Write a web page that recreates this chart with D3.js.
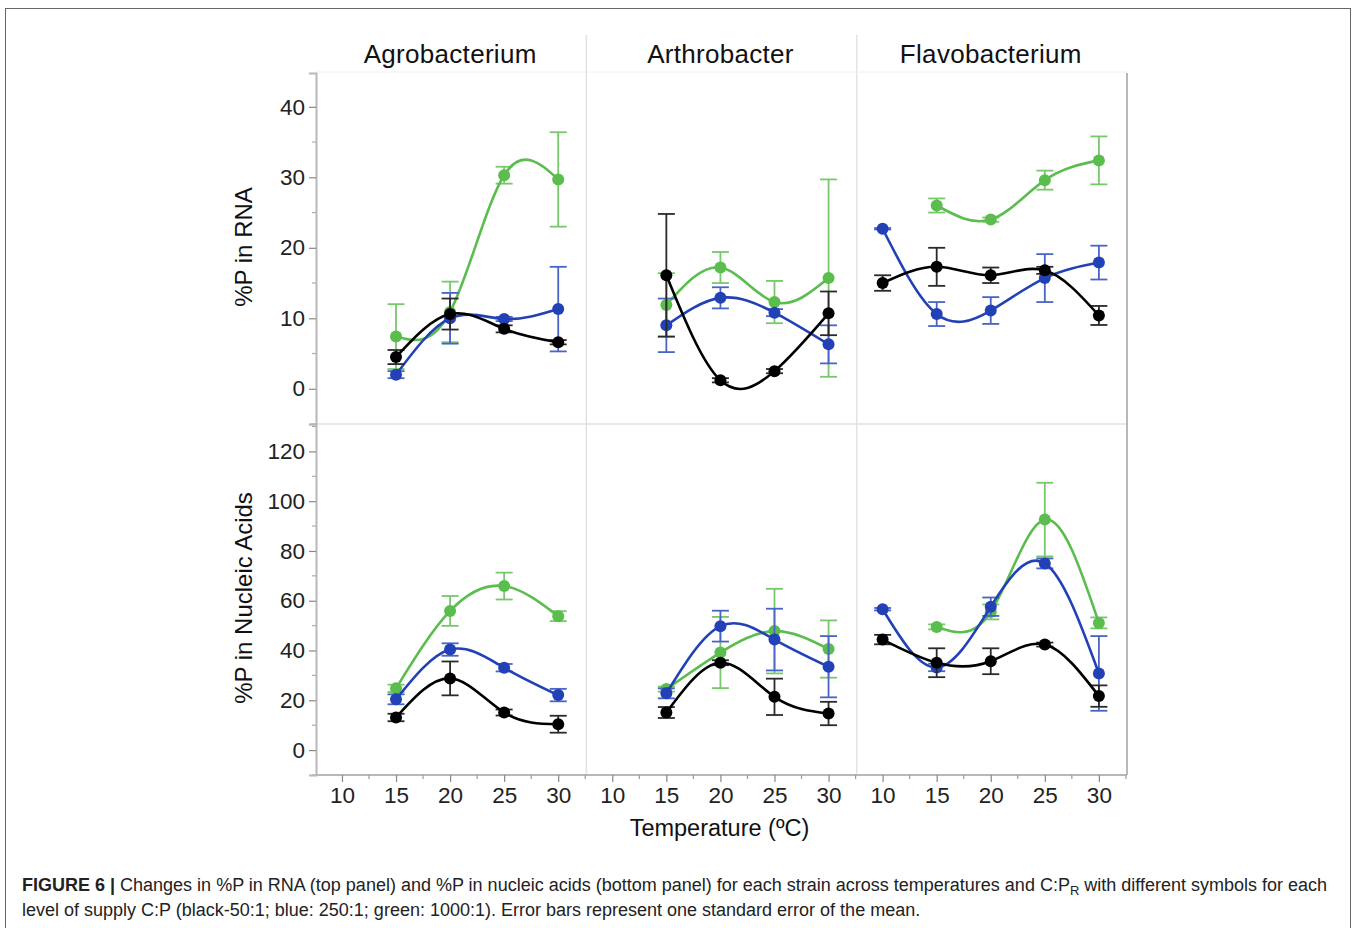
<!DOCTYPE html>
<html>
<head>
<meta charset="utf-8">
<script src="https://cdn.jsdelivr.net/npm/d3@7"></script>
<style>
  body { margin: 0; background: #fff; }
  svg { display: block; font-family: "Liberation Sans", Arial, sans-serif; }
</style>
</head>
<body>
<svg width="1358" height="928"></svg>
<script>
// data
const strains = ["Agrobacterium", "Arthrobacter", "Flavobacterium"];
const supplies = ["50:1", "250:1", "1000:1"];  // black, blue, green
const temps = [10, 15, 20, 25, 30];
const xTicks = [10, 15, 20, 25, 30];
const rnaTicks = [0, 10, 20, 30, 40];
const naTicks = [0, 20, 40, 60, 80, 100, 120];

// %P in RNA, rows = supply (black, blue, green), cols = temps
const rnaAgro = [[null, 4.5, 10.6, 8.5, 6.6], [null, 2.0, 10.0, 9.9, 11.3], [null, 7.4, 10.9, 30.3, 29.7]];
const rnaAgroSE = [[0, 1.0, 2.2, 0.5, 0.3], [0, 0.5, 3.6, 0.3, 6.0], [0, 4.6, 4.3, 1.2, 6.7]];
const rnaArth = [[null, 16.1, 1.2, 2.5, 10.7], [null, 9.0, 12.9, 10.8, 6.3], [null, 11.9, 17.2, 12.3, 15.7]];
const rnaArthSE = [[0, 8.7, 0.3, 0.3, 3.1], [0, 3.8, 1.5, 0.5, 2.7], [0, 4.5, 2.2, 3.0, 14.0]];
const rnaFlav = [[15.0, 17.3, 16.1, 16.8, 10.4], [22.7, 10.6, 11.1, 15.7, 17.9], [null, 26.0, 24.0, 29.6, 32.4]];
const rnaFlavSE = [[1.1, 2.7, 1.1, 0.5, 1.35], [0.1, 1.7, 1.9, 3.4, 2.4], [0, 1.0, 0.3, 1.35, 3.4]];

// %P in nucleic acids
const naAgro = [[null, 13.1, 28.8, 15.1, 10.4], [null, 20.4, 40.4, 33.1, 22.1], [null, 24.8, 55.9, 65.9, 53.8]];
const naAgroSE = [[0, 1.5, 6.8, 1.2, 3.4], [0, 2.0, 2.5, 1.5, 2.5], [0, 1.5, 6.0, 5.4, 2.0]];
const naArth = [[null, 15.1, 35.1, 21.4, 14.7], [null, 22.8, 49.8, 44.4, 33.5], [null, 24.5, 39.2, 47.8, 40.6]];
const naArthSE = [[0, 2.2, 1.0, 7.3, 4.7], [0, 2.0, 6.2, 12.4, 12.3], [0, 1.0, 14.3, 17.0, 11.5]];
const naFlav = [[44.4, 35.1, 35.7, 42.4, 21.7], [56.6, 33.2, 57.6, 75.0, 30.8], [null, 49.5, 55.5, 92.6, 51.1]];
const naFlavSE = [[1.9, 5.8, 5.2, 0.8, 4.3], [0.5, 1.5, 3.7, 2.0, 15.0], [0, 1.0, 3.0, 14.8, 2.2]];

const colors = ["#000000", "#2241b6", "#5bbd4e"];
const barColors = ["#2a2a2a", "#4964c6", "#77c86b"];

const svg = d3.select("svg");

// layout
const left = 316, right = 1127;
const panelW = (right - left) / 3;
const topY0 = 73, midY = 424, botY1 = 775;

const yRna = d3.scaleLinear().domain([-5, 44.8]).range([midY, topY0]);
const yNa = d3.scaleLinear().domain([-10, 131]).range([botY1, midY]);

// outer frame
svg.append("rect").attr("x", 5.5).attr("y", 8.5).attr("width", 1345).attr("height", 940)
  .attr("fill", "none").attr("stroke", "#666").attr("stroke-width", 1);

// grid separators
const sepColor = "#e2e2e2";
[1, 2].forEach(i => {
  svg.append("line").attr("x1", left + i * panelW).attr("x2", left + i * panelW)
    .attr("y1", 35).attr("y2", botY1).attr("stroke", sepColor).attr("stroke-width", 1.5);
});
svg.append("line").attr("x1", left).attr("x2", right).attr("y1", midY).attr("y2", midY)
  .attr("stroke", sepColor).attr("stroke-width", 1.5);
svg.append("line").attr("x1", left).attr("x2", right).attr("y1", topY0 - 1).attr("y2", topY0 - 1)
  .attr("stroke", "#f0f0f0").attr("stroke-width", 1);
svg.append("line").attr("x1", right).attr("x2", right).attr("y1", topY0).attr("y2", botY1)
  .attr("stroke", "#b8b8b8").attr("stroke-width", 2);

// titles
strains.forEach((s, i) => {
  svg.append("text").attr("x", left + (i + 0.5) * panelW - 1).attr("y", 63)
    .attr("text-anchor", "middle").attr("font-size", 26).attr("letter-spacing", 0.3)
    .attr("fill", "#111").text(s);
});

// y axes
function yAxis(scale, ticks, minorStep) {
  const g = svg.append("g").attr("transform", `translate(${left},0)`);
  const [d0, d1] = scale.domain();
  const minor = d3.range(Math.ceil(d0 / minorStep) * minorStep, d1, minorStep).filter(v => !ticks.includes(v));
  g.selectAll(".mn").data(minor).join("line")
    .attr("x1", -4).attr("x2", 0).attr("y1", d => scale(d)).attr("y2", d => scale(d))
    .attr("stroke", "#aaa").attr("stroke-width", 1.2);
  g.call(d3.axisLeft(scale).tickValues(ticks).tickSize(7).tickPadding(4));
  g.select(".domain").attr("stroke", "#b8b8b8").attr("stroke-width", 2);
  g.selectAll(".tick line").attr("stroke", "#888").attr("stroke-width", 1.2);
  g.selectAll(".tick text").attr("font-size", 22.5).attr("fill", "#222")
    .attr("font-family", "Liberation Sans, Arial, sans-serif");
}
yAxis(yRna, rnaTicks, 5);
yAxis(yNa, naTicks, 10);

svg.append("text").attr("transform", "translate(252,247) rotate(-90)")
  .attr("text-anchor", "middle").attr("font-size", 24).attr("fill", "#111").text("%P in RNA");
svg.append("text").attr("transform", "translate(252,598) rotate(-90)")
  .attr("text-anchor", "middle").attr("font-size", 24).attr("fill", "#111").text("%P in Nucleic Acids");

// x axes, one per strain
const xScales = strains.map((s, i) =>
  d3.scaleLinear().domain([7.6, 32.6]).range([left + i * panelW, left + (i + 1) * panelW]));

svg.append("line").attr("x1", left).attr("x2", right).attr("y1", botY1).attr("y2", botY1)
  .attr("stroke", "#b8b8b8").attr("stroke-width", 2);
xScales.forEach(x => {
  const g = svg.append("g").attr("transform", `translate(0,${botY1})`);
  const minor = d3.range(7.5, 33, 2.5).filter(v => !xTicks.includes(v) && v >= 7.6);
  g.selectAll(".mn").data(minor).join("line")
    .attr("x1", d => x(d)).attr("x2", d => x(d)).attr("y1", 0).attr("y2", 4)
    .attr("stroke", "#999").attr("stroke-width", 1.2);
  g.call(d3.axisBottom(x).tickValues(xTicks).tickSize(7).tickPadding(5));
  g.select(".domain").remove();
  g.selectAll(".tick line").attr("stroke", "#888").attr("stroke-width", 1.2);
  g.selectAll(".tick text").attr("font-size", 22.5).attr("fill", "#222")
    .attr("font-family", "Liberation Sans, Arial, sans-serif");
});

svg.append("text").attr("x", left + 1.5 * panelW - 2).attr("y", 836)
  .attr("text-anchor", "middle").attr("font-size", 23.5).attr("fill", "#111").text("Temperature (ºC)");

// series
const line = d3.line().curve(d3.curveNatural);

function drawPanel(x, y, means, ses) {
  const g = svg.append("g");
  [2, 1, 0].forEach(k => {
    const pts = temps.map((t, j) => ({ t, v: means[k][j], se: ses[k][j] })).filter(d => d.v !== null);
    // error bars
    const eb = g.append("g").attr("stroke", barColors[k]).attr("stroke-width", 1.8).attr("fill", "none");
    pts.filter(d => d.se > 0).forEach(d => {
      const cx = x(d.t), y1 = y(d.v + d.se), y2 = y(d.v - d.se);
      eb.append("line").attr("x1", cx).attr("x2", cx).attr("y1", y1).attr("y2", y2);
      eb.append("line").attr("x1", cx - 8.5).attr("x2", cx + 8.5).attr("y1", y1).attr("y2", y1);
      eb.append("line").attr("x1", cx - 8.5).attr("x2", cx + 8.5).attr("y1", y2).attr("y2", y2);
    });
    g.append("path").attr("d", line(pts.map(d => [x(d.t), y(d.v)])))
      .attr("fill", "none").attr("stroke", colors[k]).attr("stroke-width", 2.6);
    g.selectAll(null).data(pts).join("circle")
      .attr("cx", d => x(d.t)).attr("cy", d => y(d.v)).attr("r", 6).attr("fill", colors[k]);
  });
}

drawPanel(xScales[0], yRna, rnaAgro, rnaAgroSE);
drawPanel(xScales[1], yRna, rnaArth, rnaArthSE);
drawPanel(xScales[2], yRna, rnaFlav, rnaFlavSE);
drawPanel(xScales[0], yNa, naAgro, naAgroSE);
drawPanel(xScales[1], yNa, naArth, naArthSE);
drawPanel(xScales[2], yNa, naFlav, naFlavSE);

// caption
const cap1 = svg.append("text").attr("x", 22).attr("y", 891).attr("font-size", 18).attr("fill", "#222");
cap1.append("tspan").attr("font-weight", "bold").text("FIGURE 6 | ");
cap1.append("tspan").text("Changes in %P in RNA (top panel) and %P in nucleic acids (bottom panel) for each strain across temperatures and C:P");
cap1.append("tspan").attr("font-size", 13).attr("dy", 4).text("R");
cap1.append("tspan").attr("dy", -4).text(" with different symbols for each");
svg.append("text").attr("x", 22).attr("y", 916).attr("font-size", 18).attr("fill", "#222")
  .text("level of supply C:P (black-50:1; blue: 250:1; green: 1000:1). Error bars represent one standard error of the mean.");
</script>
</body>
</html>
